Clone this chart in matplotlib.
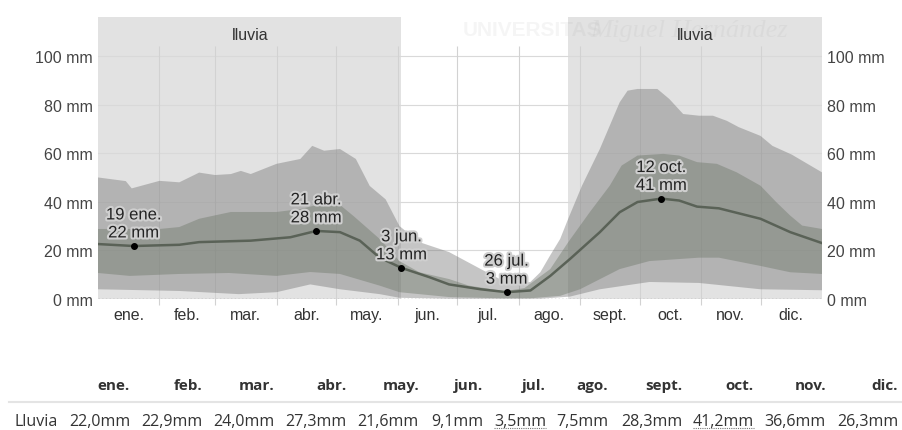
import matplotlib
matplotlib.use('Agg')
import matplotlib.pyplot as plt
import matplotlib.patheffects as pe
from matplotlib.lines import Line2D

# day of year (0-365) and rainfall in mm
median_days = [0, 18, 41, 51, 77, 97, 110, 122, 132, 142, 153, 167, 177, 193, 206,
               218, 228, 238, 253, 263, 272, 284, 293, 302, 313, 334, 349, 365]
median_mm = [22.6, 21.8, 22.3, 23.4, 24.0, 25.4, 28.0, 27.5, 24.0, 17.0, 12.8, 9.0, 6.0, 4.0, 2.8,
             3.5, 9.5, 16.5, 27.5, 35.7, 39.9, 41.3, 40.5, 38.0, 37.3, 33.0, 27.5, 23.0]

p90_days = [0, 14, 17, 31, 41, 51, 59, 67, 72, 77, 90, 102, 108, 114, 122, 130, 137, 145, 152,
            162, 177, 193, 203, 210, 218, 223, 228, 233, 237, 244, 253, 258, 263, 267, 272, 282,
            288, 295, 303, 310, 317, 323, 334, 340, 350, 351, 365]
p90_mm = [50, 48.5, 45.5, 48.6, 48, 52, 51, 51.4, 52.7, 51.4, 55.6, 57.6, 63, 61, 61.7, 57.6, 46.5,
          41, 30, 23.4, 19.3, 12.3, 8, 6, 7, 11, 18, 24.7, 32.9, 46.6, 61.7, 71.3, 80.9, 85.7,
          86.4, 86.4, 82.3, 76.1, 75.4, 75.4, 73.3, 70.7, 67.1, 63, 59.3, 58.8, 52.1]

p75_days = [0, 16, 31, 41, 51, 67, 90, 102, 112, 122, 129, 142, 152, 162, 177, 187, 205, 215,
            228, 237, 248, 258, 264, 272, 285, 293, 302, 312, 322, 334, 342, 349, 355, 365]
p75_mm = [28.8, 28.8, 28.8, 29.6, 33, 35.8, 35.8, 37, 39, 38.7, 34, 24.7, 15.6, 11, 8.2, 5.5, 3.2,
          4.5, 12.3, 23.3, 35.8, 46.6, 54.9, 59, 59.7, 59, 56.3, 55.6, 52.1, 46.6, 39.8, 34.3,
          30.2, 28.8]

p25_days = [0, 16, 41, 66, 90, 107, 122, 142, 152, 177, 203, 218, 233, 243, 263, 278, 303,
            313, 334, 349, 365]
p25_mm = [10.7, 9.5, 10.3, 10.7, 9.5, 11.1, 10.3, 5.5, 2.8, 0.8, 0.3, 0.3, 1.3, 4, 12.3, 15.6,
          17, 17, 13.6, 11, 10.3]

p10_days = [0, 41, 71, 90, 107, 122, 142, 152, 177, 223, 238, 253, 278, 303, 334, 365]
p10_mm = [4, 3.3, 2, 2.8, 6, 4, 2, 0.5, 0.1, 0.1, 1, 4, 7, 6.6, 4, 3.6]

# marked points: (day, mm, label)
marks = [(18, 21.8, '19 ene.\n22 mm'), (110, 28.0, '21 abr.\n28 mm'),
         (153, 12.8, '3 jun.\n13 mm'), (206, 2.8, '26 jul.\n3 mm'),
         (284, 41.3, '12 oct.\n41 mm')]

# rainy season spans (day of year)
rainy = [(0, 153), (237, 365)]

month_starts = [0, 31, 59, 90, 120, 151, 181, 212, 243, 273, 304, 334, 365]
month_labels = ['ene.', 'feb.', 'mar.', 'abr.', 'may.', 'jun.',
                'jul.', 'ago.', 'sept.', 'oct.', 'nov.', 'dic.']
y_ticks = [0, 20, 40, 60, 80, 100]

table_values = ['22,0mm', '22,9mm', '24,0mm', '27,3mm', '21,6mm', '9,1mm',
                '3,5mm', '7,5mm', '28,3mm', '41,2mm', '36,6mm', '26,3mm']
underlined = ['3,5mm', '41,2mm']

W, H = 902, 431
fig = plt.figure(figsize=(W / 100, H / 100), dpi=100)
ax = fig.add_axes([98 / W, 131 / H, 724 / W, 282 / H])
ax.set_xlim(0, 365)
ax.set_ylim(0, 116)

for a, b in rainy:
    ax.axvspan(a, b, color='#e2e2e2', lw=0, zorder=0)
    ax.text((a + b) / 2, 109, 'lluvia', ha='center', va='center', fontsize=11.5,
            color='#333333', family='Liberation Sans', zorder=5)

for y in y_ticks[1:]:
    ax.axhline(y, color='#d9d9d9', lw=0.8, zorder=1)
ax.vlines(month_starts[1:-1], -2.5, 104, colors='#d2d2d2', lw=0.8, zorder=1, clip_on=False)
ax.axhline(0, color='#909090', lw=1, ls=':', zorder=1)

ax.fill(p90_days + p10_days[::-1], p90_mm + p10_mm[::-1], color='#6b6b6b', alpha=0.39, lw=0, zorder=2)
ax.fill(p75_days + p25_days[::-1], p75_mm + p25_mm[::-1], color='#697364', alpha=0.4, lw=0, zorder=2)
ax.plot(median_days, median_mm, color='#5a6257', lw=1.8, zorder=3)

for d, v, lab in marks:
    ax.plot(d, v, 'o', color='black', ms=4, zorder=4)
    ax.annotate(lab, (d, v), xytext=(0, 4), textcoords='offset points', ha='center',
                va='bottom', fontsize=12, color='#222222', family='Liberation Sans',
                linespacing=1.25, zorder=5,
                path_effects=[pe.withStroke(linewidth=3, foreground='#cfcfcf')])

mids = [(month_starts[i] + month_starts[i + 1]) / 2 for i in range(12)]
ax.set_xticks(mids, month_labels)
ax.set_yticks(y_ticks, [f'{v} mm' for v in y_ticks])
ax.tick_params(axis='x', length=0, pad=6, labelsize=11.5, labelcolor='#333333')
ax.tick_params(axis='y', length=0, pad=3.6, labelsize=11.5, labelcolor='#444444',
               labelleft=True, labelright=True)
for lab in ax.get_xticklabels() + ax.get_yticklabels():
    lab.set_family('Liberation Sans')
for s in ax.spines.values():
    s.set_visible(False)

# faint watermark
fig.text(463 / W, 1 - 31 / H, 'UNIVERSITAS', fontsize=15, weight='bold', color='#888888',
         alpha=0.08, family='Liberation Sans', va='center')
fig.text(590 / W, 1 - 31 / H, 'Miguel Hernández', fontsize=19, style='italic', color='#888888',
         alpha=0.08, family='Liberation Serif', va='center')

# table below the chart
col_right = [130, 202, 275, 347, 419, 483, 546, 608, 682, 754, 826, 898]
for x, m, v in zip(col_right, month_labels, table_values):
    fig.text(x / W, 1 - 386 / H, m, ha='right', va='center', fontsize=11, weight='bold',
             color='#333333', family='Open Sans')
    t = fig.text(x / W, 1 - 422 / H, v, ha='right', va='center', fontsize=11.5,
                 color='#333333', family='Open Sans')
    if v in underlined:
        fig.canvas.draw()
        bb = t.get_window_extent()
        fig.add_artist(Line2D([bb.x0 / W, bb.x1 / W], [(bb.y0 + 1) / H] * 2,
                              color='#777777', lw=0.8, ls=(0, (1, 1))))
fig.text(15 / W, 1 - 422 / H, 'Lluvia', ha='left', va='center', fontsize=11.5,
         color='#333333', family='Open Sans')
fig.add_artist(Line2D([9 / W, 1], [1 - 403 / H] * 2, color='#e4e4e4', lw=1.5))

fig.savefig('out.png', dpi=100)
